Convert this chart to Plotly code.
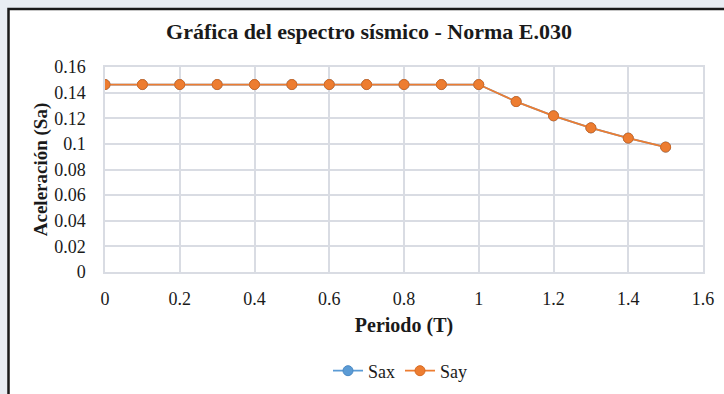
import plotly.graph_objects as go

# Periodo T (s) y aceleración espectral Sa
periodo = [0.0, 0.1, 0.2, 0.3, 0.4, 0.5, 0.6, 0.7, 0.8, 0.9, 1.0, 1.1, 1.2, 1.3, 1.4, 1.5]
sax = [0.1463, 0.1463, 0.1463, 0.1463, 0.1463, 0.1463, 0.1463, 0.1463, 0.1463, 0.1463,
       0.1463, 0.1330, 0.1219, 0.1125, 0.1045, 0.0975]
say = [0.1463, 0.1463, 0.1463, 0.1463, 0.1463, 0.1463, 0.1463, 0.1463, 0.1463, 0.1463,
       0.1463, 0.1330, 0.1219, 0.1125, 0.1045, 0.0975]

x_ticks = [0, 0.2, 0.4, 0.6, 0.8, 1.0, 1.2, 1.4, 1.6]
x_labels = ["0", "0.2", "0.4", "0.6", "0.8", "1", "1.2", "1.4", "1.6"]
y_ticks = [0, 0.02, 0.04, 0.06, 0.08, 0.1, 0.12, 0.14, 0.16]
y_labels = ["0", "0.02", "0.04", "0.06", "0.08", "0.1", "0.12", "0.14", "0.16"]

W, H = 724, 394
L, R, T, B = 105, 21, 67, 122
pw, ph = W - L - R, H - T - B

def px_x(p):
    return (p - L) / pw

def px_y(p):
    return (H - B - p) / ph

FONT = "Goudy Old Style, Liberation Serif, DejaVu Serif, serif"

fig = go.Figure()
fig.add_trace(go.Scatter(
    x=periodo, y=sax, name="Sax", mode="lines+markers",
    line=dict(color="#5B9BD5", width=1.8),
    marker=dict(size=10, color="#5B9BD5", line=dict(color="#4A89C4", width=1)),
))
fig.add_trace(go.Scatter(
    x=periodo, y=say, name="Say", mode="lines+markers",
    line=dict(color="#ED7D31", width=1.8),
    marker=dict(size=10, color="#ED7D31", line=dict(color="#D86A20", width=1)),
))

grid = "#D9DCE3"
fig.update_layout(
    width=W, height=H,
    margin=dict(l=L, r=R, t=T, b=B, autoexpand=False),
    paper_bgcolor="#E9EDF3",
    plot_bgcolor="white",
    font=dict(family=FONT, size=18, color="#1a1a1a"),
    title=dict(text="<b>Gráfica del espectro sísmico - Norma E.030</b>",
               x=px_x(369), xref="paper", xanchor="center",
               y=1 - 31 / H, yanchor="middle",
               font=dict(family=FONT, size=22, color="#1a1a1a")),
    xaxis=dict(range=[0, 1.6], tickvals=x_ticks, ticktext=x_labels,
               showgrid=True, gridcolor=grid, gridwidth=1.5,
               showline=True, linecolor=grid, linewidth=1.5, mirror=True,
               zeroline=False, ticks="", ticklabelstandoff=10,
               automargin=False,
               title=dict(text="<b>Periodo (T)</b>", standoff=10,
                          font=dict(family=FONT, size=20))),
    yaxis=dict(range=[0, 0.16], tickvals=y_ticks, ticktext=y_labels,
               showgrid=True, gridcolor=grid, gridwidth=1.5,
               showline=True, linecolor=grid, linewidth=1.5, mirror=True,
               zeroline=False, ticks="", ticklabelstandoff=14,
               automargin=False,
               title=dict(text="<b>Aceleración (Sa)</b>", standoff=2,
                          font=dict(family=FONT, size=19))),
    legend=dict(orientation="h", x=px_x(400), xanchor="center",
                y=px_y(371), yanchor="middle",
                bgcolor="rgba(0,0,0,0)", font=dict(family=FONT, size=18),
                itemwidth=30, tracegroupgap=0),
    showlegend=True,
    shapes=[dict(type="rect", xref="paper", yref="paper", layer="below",
                 x0=px_x(8.5), x1=px_x(740), y0=px_y(420), y1=px_y(9),
                 fillcolor="white", line=dict(color="#1a1a1a", width=2.5))],
)

fig.write_html("out.html")
